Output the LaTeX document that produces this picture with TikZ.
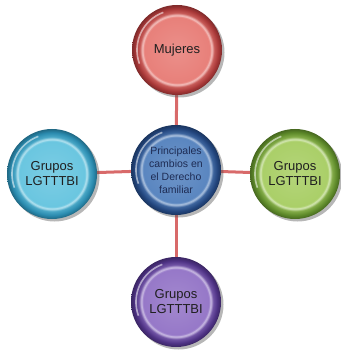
\documentclass[tikz,border=0pt]{standalone}
\usepackage{fontspec}
\setmainfont{Liberation Sans}
\usetikzlibrary{shadows,backgrounds}
\definecolor{base}{HTML}{E8807A}
\definecolor{dark}{HTML}{A83838}
\pgfdeclareradialshading[base,dark]{bubble}{\pgfpoint{0bp}{0bp}}{%
  color(0bp)=(base!88!white);
  color(18.3bp)=(base);
  color(19.3bp)=(base!45!white);
  color(20.6bp)=(dark!50!base);
  color(23bp)=(dark);
  color(25bp)=(dark!75!black);
  color(50bp)=(dark!75!black)}
\tikzset{
  bub/.style 2 args={circle, minimum size=90pt, inner sep=0pt, align=center,
    font=\fontsize{13}{15}\selectfont, text=black!88,
    preaction={drop shadow={shadow xshift=2.5pt, shadow yshift=-2.5pt, opacity=0.4, fill=black!70}},
    /utils/exec={\definecolor{base}{HTML}{#1}\definecolor{dark}{HTML}{#2}},
    shading=bubble,
    path picture={\draw[white, opacity=0.55, line width=1.6pt]
        ([shift={(110:40pt)}]path picture bounding box.center) arc[start angle=110, end angle=200, radius=40pt];}},
  conn/.style={draw={rgb,255:red,216;green,106;blue,106}, line width=3pt}
}
\begin{document}
\begin{tikzpicture}[x=1pt,y=1pt]
\useasboundingbox (0,0) rectangle (340,-352);
\node[bub={E8807A}{A83838}] (t) at (177,-50) {Mujeres};
\node[bub={5A86C0}{23467E}, font=\fontsize{10.5}{13}\selectfont, text={rgb,255:red,30;green,44;blue,84}] (c) at (176,-170) {Principales\\cambios en\\el Derecho\\familiar};
\node[bub={6AC6E0}{2A8AAE}] (l) at (52,-174) {Grupos\\LGTTTBI};
\node[bub={AACF68}{5E8A2A}] (r) at (295,-174) {Grupos\\LGTTTBI};
\node[bub={9678C8}{4E3284}] (b) at (176,-302) {Grupos\\LGTTTBI};
\begin{scope}[on background layer]
\draw[conn] (c) -- (t);
\draw[conn] (c) -- (l);
\draw[conn] (c) -- (r);
\draw[conn] (c) -- (b);
\end{scope}
\end{tikzpicture}
\end{document}
